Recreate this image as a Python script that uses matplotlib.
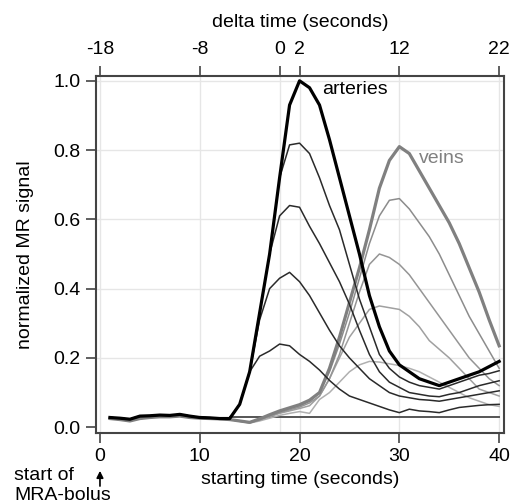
import matplotlib as mpl
mpl.use("Agg")
import matplotlib.pyplot as plt

plt.rcParams['font.family'] = ['Liberation Sans', 'DejaVu Sans']
plt.rcParams['font.size'] = 14

# starting time (seconds), one sample per second
t = list(range(1, 41))

# shared pre-bolus baseline (t = 1..13)
base_art = [0.028, 0.026, 0.023, 0.032, 0.033, 0.035, 0.034, 0.037, 0.032,
            0.028, 0.027, 0.025, 0.025]
base_vein = [0.025, 0.022, 0.018, 0.025, 0.028, 0.030, 0.030, 0.032, 0.028,
             0.026, 0.025, 0.024, 0.022]

# arteries, t = 14..40
art1 = base_art + [0.066, 0.16, 0.33, 0.50, 0.72, 0.93, 1.0, 0.98, 0.93, 0.83,
                   0.72, 0.61, 0.50, 0.38, 0.29, 0.22, 0.18, 0.16, 0.14, 0.13,
                   0.12, 0.13, 0.14, 0.15, 0.16, 0.175, 0.19]
art2 = base_art + [0.066, 0.16, 0.33, 0.50, 0.72, 0.815, 0.82, 0.79, 0.72, 0.64,
                   0.57, 0.47, 0.37, 0.29, 0.21, 0.17, 0.145, 0.13, 0.12, 0.115,
                   0.11, 0.12, 0.13, 0.14, 0.15, 0.155, 0.163]
art3 = base_art + [0.066, 0.16, 0.33, 0.50, 0.61, 0.64, 0.635, 0.58, 0.53, 0.475,
                   0.42, 0.355, 0.28, 0.21, 0.16, 0.13, 0.115, 0.10, 0.095, 0.09,
                   0.088, 0.095, 0.10, 0.11, 0.12, 0.127, 0.134]
art4 = base_art + [0.066, 0.16, 0.31, 0.40, 0.43, 0.447, 0.42, 0.38, 0.33, 0.28,
                   0.235, 0.20, 0.17, 0.14, 0.12, 0.10, 0.09, 0.085, 0.08, 0.078,
                   0.075, 0.08, 0.085, 0.09, 0.095, 0.10, 0.105]
art5 = base_art + [0.066, 0.16, 0.205, 0.22, 0.24, 0.235, 0.21, 0.19, 0.165,
                   0.135, 0.11, 0.09, 0.08, 0.07, 0.06, 0.05, 0.042, 0.052,
                   0.047, 0.045, 0.042, 0.05, 0.057, 0.06, 0.063, 0.065, 0.066]

# veins, t = 14..40
vein1 = base_vein + [0.018, 0.014, 0.024, 0.036, 0.047, 0.056, 0.065, 0.078,
                     0.10, 0.17, 0.26, 0.36, 0.46, 0.57, 0.69, 0.77, 0.81, 0.79,
                     0.74, 0.69, 0.64, 0.59, 0.53, 0.46, 0.39, 0.31, 0.235]
vein2 = base_vein + [0.018, 0.014, 0.023, 0.034, 0.045, 0.054, 0.062, 0.075,
                     0.10, 0.16, 0.24, 0.33, 0.43, 0.53, 0.61, 0.655, 0.66, 0.63,
                     0.59, 0.55, 0.50, 0.44, 0.38, 0.32, 0.27, 0.22, 0.17]
vein3 = base_vein + [0.018, 0.013, 0.022, 0.032, 0.042, 0.050, 0.058, 0.070,
                     0.09, 0.14, 0.21, 0.30, 0.39, 0.47, 0.50, 0.49, 0.47, 0.44,
                     0.40, 0.36, 0.32, 0.28, 0.24, 0.20, 0.17, 0.14, 0.12]
vein4 = base_vein + [0.017, 0.013, 0.020, 0.030, 0.040, 0.047, 0.054, 0.062,
                     0.09, 0.14, 0.20, 0.26, 0.30, 0.34, 0.35, 0.345, 0.34, 0.32,
                     0.29, 0.25, 0.225, 0.20, 0.17, 0.14, 0.11, 0.10, 0.09]
vein5 = base_vein + [0.017, 0.012, 0.018, 0.026, 0.034, 0.040, 0.045, 0.040,
                     0.08, 0.10, 0.13, 0.16, 0.18, 0.19, 0.188, 0.183, 0.178,
                     0.17, 0.16, 0.145, 0.13, 0.115, 0.10, 0.085, 0.075, 0.065,
                     0.06]

# flat reference level after bolus arrival
flat_t = [13, 40]
flat_v = [0.028, 0.028]

top_ticks = [0, 10, 18, 20, 30, 40]
top_labels = ['-18', '-8', '0', '2', '12', '22']
bottom_ticks = [0, 10, 20, 30, 40]
y_ticks = [0.0, 0.2, 0.4, 0.6, 0.8, 1.0]

fig = plt.figure(figsize=(5.16, 5.03), dpi=100)
ax = fig.add_axes([0.186, 0.139, 0.791, 0.71])

for x in top_ticks:
    ax.axvline(x, color='#e6e6e6', lw=1.0, zorder=0)
for y in y_ticks[1:]:
    ax.axhline(y, color='#e6e6e6', lw=1.0, zorder=0)

ax.plot(flat_t, flat_v, color='#555555', lw=1.4, zorder=2)

for v, c in [(vein5, '#b0b0b0'), (vein4, '#a0a0a0'), (vein3, '#959595'),
             (vein2, '#8c8c8c')]:
    ax.plot(t, v, color=c, lw=1.1, zorder=2)
ax.plot(t, vein1, color='#808080', lw=2.3, zorder=3)

for a in [art5, art4, art3, art2]:
    ax.plot(t, a, color='#2a2a2a', lw=1.1, zorder=4)
ax.plot(t, art1, color='black', lw=2.3, zorder=5)

ax.text(22.3, 0.975, 'arteries', color='black', va='center', ha='left')
ax.text(32.0, 0.777, 'veins', color='#808080', va='center', ha='left')

ax.set_xlim(-0.4, 40.5)
ax.set_ylim(-0.017, 1.014)
ax.set_xticks(bottom_ticks)
ax.set_yticks(y_ticks)
ax.set_yticklabels(['%.1f' % y for y in y_ticks])
ax.tick_params(direction='out', length=7, width=1.2, color='#444444', pad=4)
for s in ax.spines.values():
    s.set_color('#444444')
    s.set_linewidth(1.5)

ax.set_xlabel('starting time (seconds)', labelpad=4)
ax.set_ylabel('normalized MR signal', labelpad=14)

ax2 = ax.twiny()
ax2.set_xlim(ax.get_xlim())
ax2.set_xticks(top_ticks)
ax2.set_xticklabels(top_labels)
ax2.tick_params(direction='out', length=7, width=1.2, color='#444444', pad=6)
for s in ax2.spines.values():
    s.set_visible(False)
ax2.set_xlabel('delta time (seconds)', labelpad=10)

# bolus start marker below the axis
ax.annotate('', xy=(0, -0.118), xytext=(0, -0.178), xycoords='data',
            annotation_clip=False,
            arrowprops=dict(arrowstyle='-|>', color='black', lw=1.2,
                            mutation_scale=10))
fig.text(14 / 516, 1 - 475 / 503, 'start of', ha='left', va='center')
fig.text(14 / 516, 1 - 495 / 503, 'MRA-bolus', ha='left', va='center')

fig.savefig('out.png', dpi=100)
